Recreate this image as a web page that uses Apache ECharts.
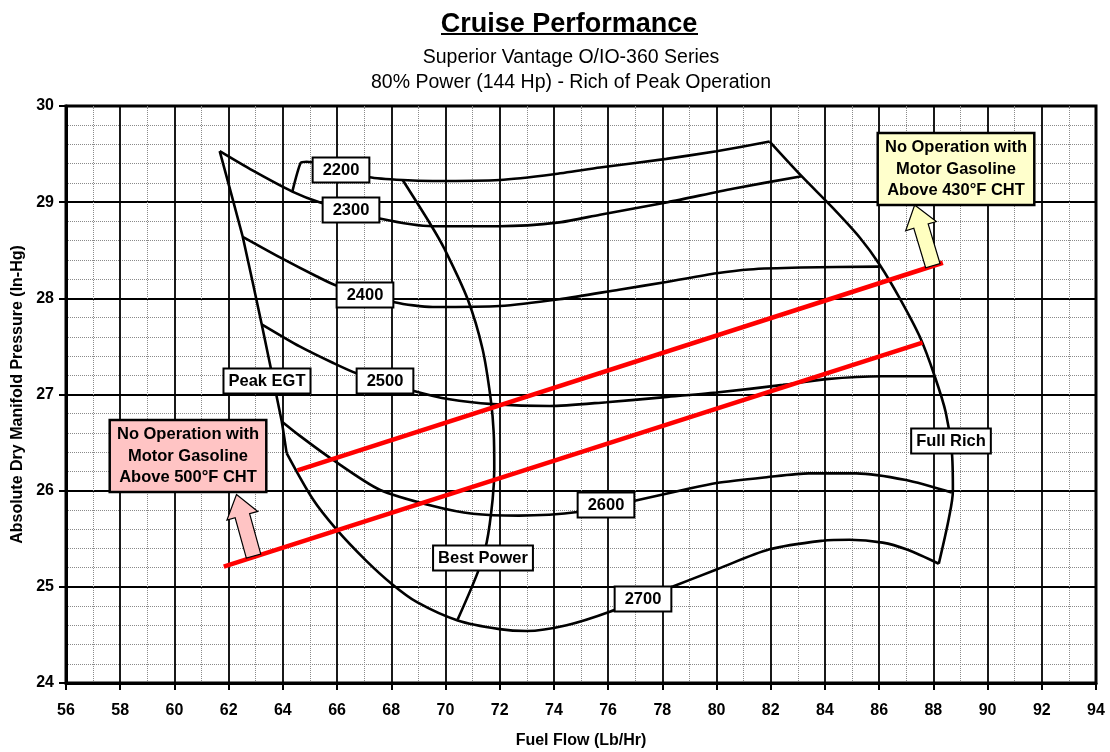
<!DOCTYPE html>
<html>
<head>
<meta charset="utf-8">
<title>Cruise Performance</title>
<script src="https://cdn.jsdelivr.net/npm/echarts@6/dist/echarts.min.js"></script>
<style>
  html, body { margin: 0; padding: 0; background: #fff; }
  #chart { width: 1110px; height: 752px; }
</style>
</head>
<body>
<div id="chart"></div>
<script>
// Fuel flow (Lb/Hr) vs. manifold pressure (In-Hg), one curve per RPM setting
const rpm2200 = [[64.35, 29.11], [64.66, 29.41], [64.88, 29.42], [67.2, 29.26], [68.42, 29.23], [69.53, 29.22], [72.0, 29.23], [74.0, 29.29], [75.7, 29.36], [78.15, 29.45], [80.0, 29.53], [81.96, 29.63]];
const rpm2300 = [[61.67, 29.53], [62.88, 29.33], [64.35, 29.11], [65.35, 29.0], [67.57, 28.83], [69.53, 28.75], [72.0, 28.75], [74.2, 28.79], [75.7, 28.87], [78.2, 29.0], [80.6, 29.14], [83.14, 29.27]];
const rpm2400 = [[62.52, 28.64], [64.0, 28.41], [65.24, 28.23], [66.0, 28.13], [68.12, 27.96], [69.53, 27.91], [72.0, 27.92], [74.2, 27.99], [76.4, 28.09], [78.15, 28.17], [80.0, 28.26], [81.2, 28.30], [83.1, 28.32], [86.0, 28.33]];
const rpm2500 = [[63.22, 27.73], [64.62, 27.5], [65.84, 27.33], [66.72, 27.22], [68.8, 27.04], [70.15, 26.95], [71.74, 26.9], [73.85, 26.88], [75.94, 26.92], [78.0, 26.97], [80.0, 27.02], [82.45, 27.1], [84.05, 27.16], [86.1, 27.19], [88.05, 27.19]];
const rpm2600 = [[63.96, 26.72], [64.63, 26.57], [65.85, 26.32], [67.57, 26.01], [69.54, 25.84], [71.01, 25.76], [72.7, 25.74], [74.95, 25.78], [76.9, 25.89], [78.8, 26.01], [80.0, 26.08], [81.85, 26.14], [83.4, 26.18], [85.15, 26.18], [86.99, 26.11], [88.68, 25.98]];
const rpm2700 = [[64.14, 26.39], [65.11, 25.91], [65.97, 25.6], [67.08, 25.27], [68.02, 25.03], [68.95, 24.84], [70.45, 24.65], [72.0, 24.56], [73.0, 24.54], [74.47, 24.6], [76.06, 24.74], [78.27, 24.99], [80.0, 25.18], [81.96, 25.39], [83.92, 25.48], [84.91, 25.49], [86.13, 25.46], [87.0, 25.39], [88.2, 25.24]];

// Mixture boundary lines
const peakEgt = [[61.67, 29.53], [62.52, 28.64], [63.22, 27.73], [63.96, 26.72], [64.14, 26.39]];
const fullRich = [[81.96, 29.63], [83.14, 29.27], [84.29, 28.94], [85.29, 28.63], [86.02, 28.35], [86.76, 28.0], [87.5, 27.6], [88.05, 27.19], [88.46, 26.81], [88.68, 26.41], [88.72, 26.0], [88.57, 25.71], [88.2, 25.24]];
const bestPower = [[68.42, 29.23], [69.49, 28.75], [69.97, 28.51], [70.82, 27.99], [71.37, 27.47], [71.67, 26.95], [71.78, 26.6], [71.8, 26.22], [71.74, 25.91], [71.52, 25.46], [71.19, 25.15], [70.45, 24.66]];

// CHT limit lines for motor gasoline
const cht430 = [[64.54, 26.21], [88.35, 28.37]];
const cht500 = [[61.82, 25.21], [87.6, 27.54]];

// Text tags: [label, fuel flow, manifold pressure]
const rpmTags = [['2200', 66.13, 29.33], ['2300', 66.5, 28.92], ['2400', 67.04, 28.03], ['2500', 67.76, 27.14], ['2600', 75.93, 25.85], ['2700', 77.28, 24.87]];
const curveTags = [['Peak EGT', 63.4, 27.14], ['Full Rich', 88.66, 26.52], ['Best Power', 71.37, 25.3]];
const noteHot = [['No Operation with\nMotor Gasoline\nAbove 430°F CHT', 88.85, 29.35]];
const noteWarm = [['No Operation with\nMotor Gasoline\nAbove 500°F CHT', 60.49, 26.36]];
// Arrows: [tail x, tail y, tip x, tip y]
const arrowHot = [[87.98, 28.34, 87.31, 28.97]];
const arrowWarm = [[62.92, 25.32, 62.29, 25.96]];

const FONT = '"Liberation Sans", Arial, sans-serif';

function curve(data, opts) {
  return Object.assign({
    type: 'line', data: data, symbol: 'none', smooth: 0.25, silent: true, z: 3,
    lineStyle: { color: '#000', width: 2.6 }
  }, opts || {});
}

// Boxed text placed at a data coordinate (snapped to whole pixels so it stays crisp)
function boxSeries(items, box, z) {
  return {
    type: 'custom', silent: true, z: z,
    data: items.map(t => [t[1], t[2]]),
    renderItem: function (params, api) {
      const p = api.coord([api.value(0), api.value(1)]);
      return {
        type: 'text',
        x: Math.round(p[0]), y: Math.round(p[1]),
        style: {
          text: items[params.dataIndex][0],
          fill: '#000', fontFamily: FONT, fontWeight: 'bold', fontSize: 16.5,
          align: 'center', verticalAlign: 'middle', lineHeight: box.lineHeight,
          backgroundColor: box.fill, borderColor: '#000', borderWidth: box.border,
          padding: box.padding
        }
      };
    }
  };
}

function arrowSeries(data, fill) {
  return {
    type: 'custom', data: data, silent: true, z: 25,
    renderItem: function (params, api) {
      const t = api.coord([api.value(0), api.value(1)]);
      const h = api.coord([api.value(2), api.value(3)]);
      const dx = h[0] - t[0], dy = h[1] - t[1];
      const len = Math.hypot(dx, dy);
      const ux = dx / len, uy = dy / len, nx = -uy, ny = ux;
      const bw = 7.5, hw = 16, hl = 22;
      const b = [h[0] - ux * hl, h[1] - uy * hl];
      const pts = [
        [t[0] + nx * bw, t[1] + ny * bw],
        [b[0] + nx * bw, b[1] + ny * bw],
        [b[0] + nx * hw, b[1] + ny * hw],
        h,
        [b[0] - nx * hw, b[1] - ny * hw],
        [b[0] - nx * bw, b[1] - ny * bw],
        [t[0] - nx * bw, t[1] - ny * bw]
      ];
      return { type: 'polygon', shape: { points: pts }, style: { fill: fill, stroke: '#000', lineWidth: 1.2 } };
    }
  };
}

const axisCommon = {
  type: 'value',
  axisLine: { show: true, onZero: false, lineStyle: { color: '#000', width: 3 } },
  axisTick: { show: true, length: 7, lineStyle: { color: '#000', width: 2 } },
  splitLine: { show: true, lineStyle: { color: '#000', width: 1.8 } },
  minorSplitLine: { show: true, lineStyle: { color: '#8a8a8a', width: 1, type: [1, 1] } },
  nameLocation: 'middle',
  nameTextStyle: { fontFamily: FONT, fontWeight: 'bold', fontSize: 16, color: '#000' }
};

const chart = echarts.init(document.getElementById('chart'), null, { renderer: 'canvas' });
chart.setOption({
  animation: false,
  backgroundColor: '#fff',
  title: [
    { text: 'Cruise Performance', left: 564, textAlign: 'center', top: 6,
      textStyle: { fontFamily: FONT, fontSize: 27, fontWeight: 'bold', color: '#000' } },
    { text: 'Superior Vantage O/IO-360 Series\n80% Power (144 Hp) - Rich of Peak Operation', left: 566, textAlign: 'center', top: 40,
      textStyle: { fontFamily: FONT, fontSize: 19.5, fontWeight: 'normal', color: '#000', lineHeight: 25 } }
  ],
  graphic: [
    { type: 'line', shape: { x1: 441, y1: 34, x2: 698, y2: 34 }, style: { stroke: '#000', lineWidth: 2 } }
  ],
  grid: {
    left: 66, right: 14, top: 106, bottom: 69, show: true,
    borderColor: '#000', borderWidth: 3, backgroundColor: '#fff',
    containLabel: false, outerBoundsMode: 'none'
  },
  xAxis: Object.assign({}, axisCommon, {
    min: 56, max: 94, interval: 2,
    minorTick: { show: false, splitNumber: 2 },
    axisLabel: { fontFamily: FONT, fontWeight: 'bold', fontSize: 16, color: '#000', margin: 20 },
    name: 'Fuel Flow (Lb/Hr)', nameGap: 50
  }),
  yAxis: Object.assign({}, axisCommon, {
    min: 24, max: 30, interval: 1,
    minorTick: { show: false, splitNumber: 5 },
    axisLabel: { fontFamily: FONT, fontWeight: 'bold', fontSize: 16, color: '#000', margin: 12 },
    name: 'Absolute Dry Manifold Pressure (In-Hg)', nameGap: 38
  }),
  series: [
    curve(peakEgt, { smooth: 0.1 }),
    curve(fullRich, { smooth: 0.3 }),
    curve(bestPower, { smooth: 0.3 }),
    curve(rpm2200, { smooth: 0.2 }),
    curve(rpm2300),
    curve(rpm2400),
    curve(rpm2500),
    curve(rpm2600),
    curve(rpm2700, { smooth: 0.3 }),
    curve(cht430, { smooth: false, z: 5, lineStyle: { color: '#ff0000', width: 4.5 } }),
    curve(cht500, { smooth: false, z: 5, lineStyle: { color: '#ff0000', width: 4.5 } }),
    boxSeries(rpmTags, { fill: '#fff', border: 2, padding: [3, 9, 2, 9], lineHeight: 18 }, 20),
    boxSeries(curveTags, { fill: '#fff', border: 2, padding: [3, 4, 2, 4], lineHeight: 18 }, 20),
    arrowSeries(arrowHot, '#ffffc0'),
    arrowSeries(arrowWarm, '#ffc4c4'),
    boxSeries(noteHot, { fill: '#ffffcc', border: 2.5, padding: [3, 6, 2, 6], lineHeight: 21.5 }, 30),
    boxSeries(noteWarm, { fill: '#ffc4c4', border: 2.5, padding: [3, 6, 2, 6], lineHeight: 21.5 }, 30)
  ]
});
</script>
</body>
</html>
